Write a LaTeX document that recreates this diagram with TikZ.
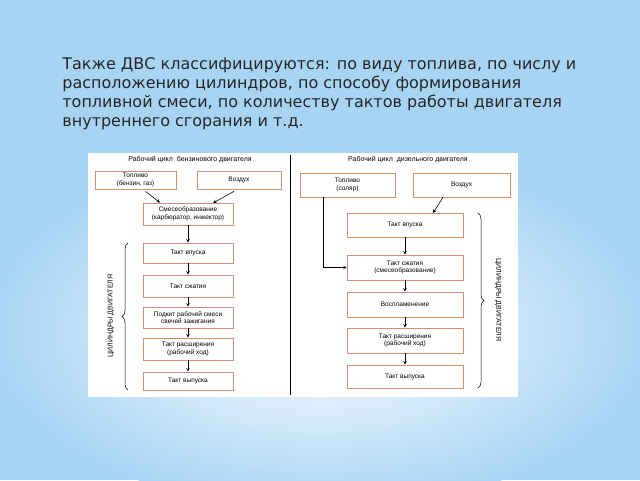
\documentclass[tikz,border=0pt]{standalone}
\usepackage{fontspec}
\setmainfont{DejaVu Sans}
\newfontfamily\boxfont{Liberation Sans}
\usetikzlibrary{positioning,decorations.pathreplacing}
\definecolor{skyblue}{HTML}{A8D4F4}
\definecolor{boxline}{HTML}{D9906A}
\begin{document}
\begin{tikzpicture}[x=1pt,y=-1pt,>=stealth,thick,
    stage/.style={draw=boxline,fill=white,line width=0.7pt,minimum height=#1,align=center,font=\boxfont\fontsize{6.5}{7.5}\selectfont,inner sep=1pt},
    stage/.default=20,
    flow/.style={->,line width=0.6pt},
    caption/.style={font=\boxfont\fontsize{7}{7}\selectfont}]

            % background
            \useasboundingbox (0,0) rectangle (640,480);
            \begin{scope}
            \clip (0,0) rectangle (640,480);
            \fill[skyblue] (0,0) rectangle (640,480);
            \shade[inner color=white,outer color=skyblue] (320,330) ellipse (330 and 180);
            \end{scope}

            \node[anchor=north west,align=left,font=\fontsize{16}{19}\selectfont,inner sep=0pt,text=black!85] (head) at (62,57)
                {Также ДВС классифицируются: по виду топлива, по числу и\\расположению цилиндров, по способу формирования\\топливной смеси, по количеству тактов работы двигателя\\внутреннего сгорания и т.д.};

            \fill[white] (88,153) rectangle (518,397);
            \draw[line width=0.6pt] (290,155) -- (290,395);

            % petrol engine
            \node[caption] (t1) at (190,160) {Рабочий цикл \ бензинового двигателя};
            \node[stage=18,minimum width=81] (fuel1) at (135.5,180) {Топливо\\(бензин, газ)};
            \node[stage=18,minimum width=84] (air1) at (239,180) {Воздух};
            \node[stage=22,minimum width=90] (mix1) at (188,214) {Смесеобразование\\(карбюратор, инжектор)};
            \node[stage=20,minimum width=90] (in1) at (188,253) {Такт впуска};
            \node[stage=22,minimum width=90] (comp1) at (188,286) {Такт сжатия};
            \node[stage=21,minimum width=90] (ign1) at (188,317.5) {Подкит рабочей смеси\\свечей зажигания};
            \node[stage=22,minimum width=90] (exp1) at (188,349) {Такт расширения\\(рабочий ход)};
            \node[stage=18,minimum width=90] (out1) at (188,381) {Такт выпуска};

            \draw[flow] (fuel1.south) ++(10,2) coordinate (f1) -- (mix1.north west -| 160,203);
            \draw[flow] (air1.south) ++(-5,2) coordinate (a1) -- (213,203);
            \draw[flow] (mix1) -- (in1);
            \draw[flow] (in1) -- (comp1);
            \draw[flow] (comp1) -- (ign1);
            \draw[flow] (ign1) -- (exp1);
            \draw[flow] (exp1) -- (out1);

            \draw[decorate,decoration={brace,amplitude=6pt},line width=0.5pt] (128,390) -- (128,243);
            \node[caption,rotate=90] (cyl1) at (111,316) {ЦИЛИНДРЫ ДВИГАТЕЛЯ};

            % diesel engine
            \node[caption] (t2) at (408,160) {Рабочий цикл \ дизельного двигателя};
            \node[stage=24,minimum width=95] (fuel2) at (347.5,185) {Топливо\\(соляр)};
            \node[stage=24,minimum width=97] (air2) at (461.5,185) {Воздух};
            \node[stage=24,minimum width=116] (in2) at (405,225) {Такт впуска};
            \node[stage=25,minimum width=116] (comp2) at (405,267.5) {Такт сжатия\\(смесеобразование)};
            \node[stage=25,minimum width=116] (ign2) at (405,304.5) {Воспламенение};
            \node[stage=25,minimum width=116] (exp2) at (405,340.5) {Такт расширения\\(рабочий ход)};
            \node[stage=23,minimum width=116] (out2) at (405,376.5) {Такт выпуска};

            \draw[flow] (fuel2.south -| 323,0) -- (323,267.5) -- (comp2.west);
            \draw[flow] (air2.south -| 443,0) -- (433,213);
            \draw[flow] (in2) -- (comp2);
            \draw[flow] (comp2) -- (ign2);
            \draw[flow] (ign2) -- (exp2);
            \draw[flow] (exp2) -- (out2);

            \draw[decorate,decoration={brace,amplitude=6pt},line width=0.5pt] (478,213) -- (478,388);
            \node[caption,rotate=-90] (cyl2) at (498,300) {ЦИЛИНДРЫ ДВИГАТЕЛЯ};
        \end{tikzpicture}
\end{document}
